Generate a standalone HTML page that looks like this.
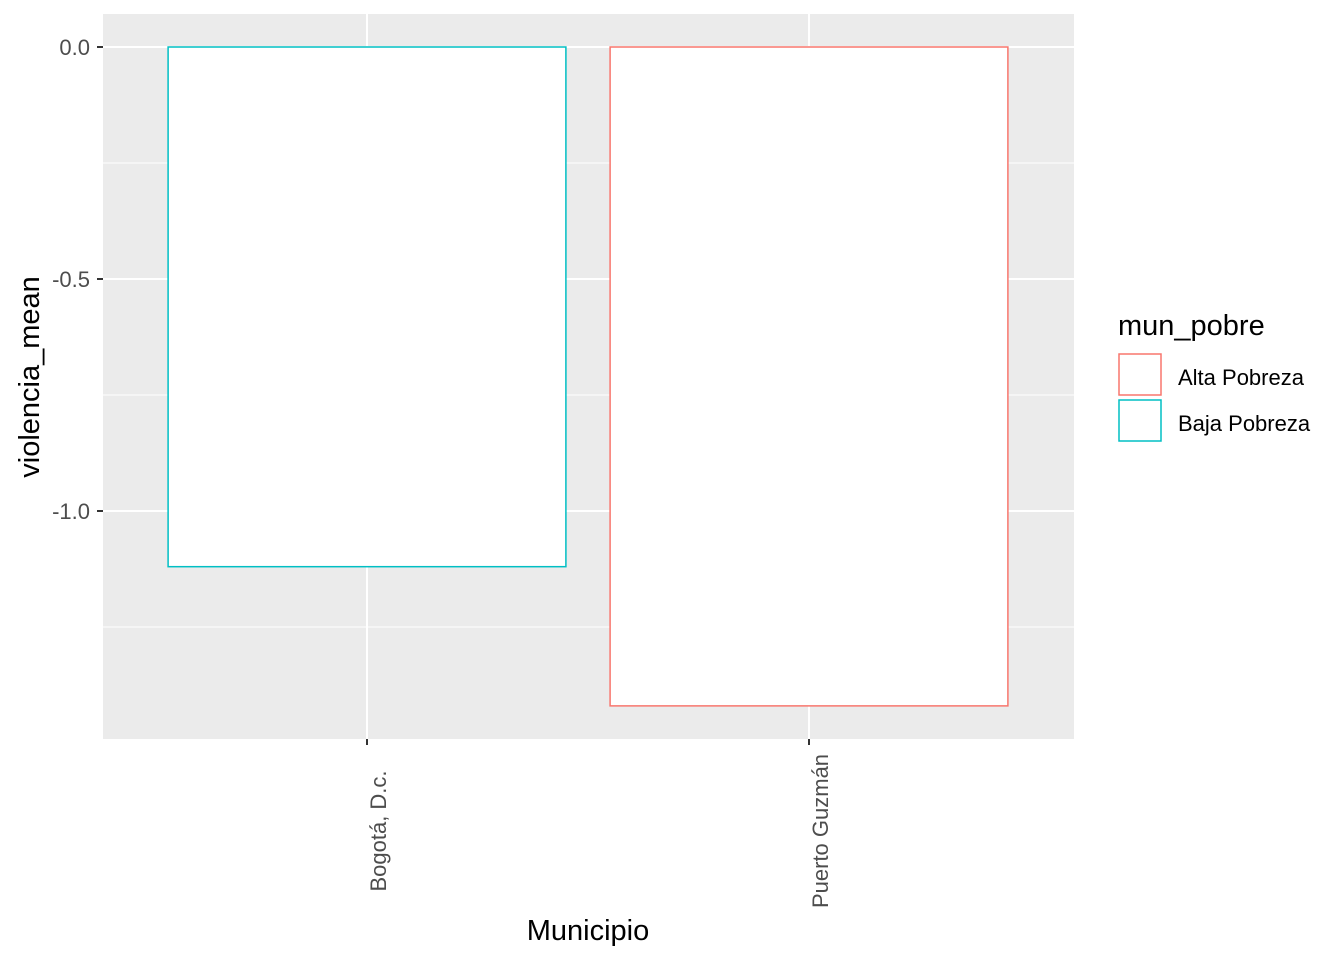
<!DOCTYPE html>
<html><head><meta charset="utf-8"><style>
body{margin:0;background:#fff;}
svg text{font-family:"Liberation Sans",Arial,sans-serif;}
</style></head><body>
<svg id="chart" width="1344" height="960" xmlns="http://www.w3.org/2000/svg">
<rect x="103" y="14" width="971" height="725" fill="#ebebeb"/>
<g id="grid"></g><g id="bars"></g><g id="axes"></g>
<text x="588" y="940" font-size="29" text-anchor="middle" fill="#000">Municipio</text>
<text transform="translate(39,377) rotate(-90)" font-size="29" text-anchor="middle" fill="#000">violencia_mean</text>
<g>
<text x="1118" y="335" font-size="29" fill="#000">mun_pobre</text>
<g>
<rect x="1119" y="354" width="42" height="41" fill="#fff" stroke="#f8766d" stroke-width="1.5"/>
<text x="1178" y="385" font-size="22" fill="#000">Alta Pobreza</text></g>
<g>
<rect x="1119" y="400" width="42" height="41" fill="#fff" stroke="#00bfc4" stroke-width="1.5"/>
<text x="1178" y="431" font-size="22" fill="#000">Baja Pobreza</text></g>
</g>
</svg>
<script>
const categories=["Bogotá, D.c.","Puerto Guzmán"];
const values=[-1.12,-1.42];
const colors=["#00bfc4","#f8766d"];
const yTicks=[0,-0.5,-1.0];
const yTickLabels=["0.0","-0.5","-1.0"];
const yMinor=[-0.25,-0.75,-1.25];
const NS="http://www.w3.org/2000/svg";
const y=v=>47-v*464;
const band=442, x0=146;
const xc=i=>x0+band*(i+0.5);
function mk(t,a,p){const e=document.createElementNS(NS,t);for(const k in a)e.setAttribute(k,a[k]);p.appendChild(e);return e;}
const g=document.getElementById('grid'),b=document.getElementById('bars'),ax=document.getElementById('axes');
yMinor.forEach(v=>{const l=mk('line',{x1:103,x2:1074,y1:y(v),y2:y(v),stroke:'#fff','stroke-width':1},g);

});
yTicks.forEach((v,i)=>{const l=mk('line',{x1:103,x2:1074,y1:y(v),y2:y(v),stroke:'#fff','stroke-width':2},g);


const t=mk('line',{x1:97,x2:103,y1:y(v),y2:y(v),stroke:'#333','stroke-width':2},ax);


const tx=mk('text',{x:90,y:y(v)+8,'font-size':22,'text-anchor':'end',fill:'#4d4d4d'},ax);tx.textContent=yTickLabels[i];

});
categories.forEach((c,i)=>{const l=mk('line',{x1:xc(i),x2:xc(i),y1:14,y2:739,stroke:'#fff','stroke-width':2},g);


const w=band*0.9;const top=Math.min(y(0),y(values[i])),h=Math.abs(y(values[i])-y(0));
const r=mk('rect',{x:xc(i)-w/2,y:top,width:w,height:h,fill:'#fff',stroke:colors[i],'stroke-width':1.5},b);


const t=mk('line',{x1:xc(i),x2:xc(i),y1:739,y2:745,stroke:'#333','stroke-width':2},ax);


const tx=mk('text',{transform:`translate(${xc(i)+19},831) rotate(-90)`,'font-size':22,'text-anchor':'middle',fill:'#4d4d4d'},ax);tx.textContent=c;

});
</script>
</body></html>
